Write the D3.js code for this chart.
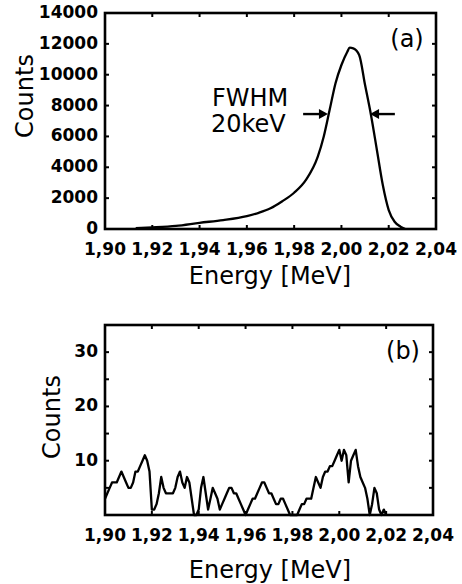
<!DOCTYPE html>
<html>
<head>
<meta charset="utf-8">
<script src="https://cdn.jsdelivr.net/npm/d3@7"></script>
<style>
  body { margin: 0; background: #fff; }
  svg { display: block; }
  .tick-label { font-family: "DejaVu Sans", sans-serif; font-weight: bold; font-size: 17px; fill: #000; }
  .axis-title { font-family: "DejaVu Sans", sans-serif; font-size: 24px; fill: #000; }
</style>
</head>
<body>
<div id="chart"></div>
<script>
// spectrum (a): energy [MeV] and counts
const energyA = [1.913, 1.92, 1.93, 1.94, 1.95, 1.96, 1.965, 1.97, 1.975, 1.98, 1.985, 1.99, 1.9925, 1.995, 1.9975,
    2.00, 2.0025, 2.0035, 2.005, 2.0075, 2.01, 2.0125, 2.015, 2.0175, 2.02, 2.0225, 2.025, 2.027];
const countsA = [50, 100, 200, 400, 580, 840, 1050, 1340, 1800, 2350, 3180, 4690, 5980, 7710, 9450,
    10630, 11490, 11750, 11710, 11280, 9330, 7390, 5120, 2850, 1230, 470, 150, 0];

// spectrum (b): 1 keV bins starting at 1.900 MeV
const binStartB = 1.900;
const binWidthB = 0.001;
const countsB = [3, 4, 5, 6, 6, 6, 7, 8, 7, 6, 5, 5, 6, 8, 8, 9, 10, 11, 10, 8,
    1, 1, 2, 4, 7, 5, 4, 4, 4, 4, 5, 7, 8, 6, 5, 7, 6, 3, 0, 0,
    1, 5, 7, 4, 1, 3, 5, 4, 3, 1, 2, 3, 4, 5, 5, 4, 4, 3, 2, 1,
    0, 1, 2, 3, 3, 4, 5, 6, 6, 5, 4, 4, 3, 2, 2, 3, 3, 2, 1, 0,
    0, 0, 0, 1, 2, 2, 3, 3, 3, 5, 7, 6, 5, 7, 8, 8, 9, 9, 10, 11,
    12, 10, 12, 11, 6, 10, 11, 12, 9, 7, 6, 5, 3, 0, 2, 5, 4, 1, 0, 1, 0];

const xTicks = [1.90, 1.92, 1.94, 1.96, 1.98, 2.00, 2.02, 2.04];
const yTicksA = [0, 2000, 4000, 6000, 8000, 10000, 12000, 14000];
const yTicksB = [5, 10, 15, 20, 25, 30];
const yLabelsB = [10, 20, 30];

// FWHM marker
const fwhmLeft = 1.9943;
const fwhmRight = 2.0121;
const fwhmLevel = 7450;

const width = 462, height = 584;
const svg = d3.select("#chart").append("svg")
    .attr("width", width)
    .attr("height", height);

const fmt = d => d.toFixed(2).replace(".", ",");

function drawPanel(opts) {
    const x = d3.scaleLinear().domain([1.90, 2.04]).range([opts.left, opts.right]);
    const y = d3.scaleLinear().domain(opts.yDomain).range([opts.bottom, opts.top]);
    const g = svg.append("g");
    const tl = 4;

    // inner ticks on all four sides
    xTicks.slice(1, -1).forEach(t => {
        g.append("line").attr("x1", x(t)).attr("x2", x(t)).attr("y1", opts.bottom).attr("y2", opts.bottom - tl)
            .attr("stroke", "#000").attr("stroke-width", 2);
        g.append("line").attr("x1", x(t)).attr("x2", x(t)).attr("y1", opts.top).attr("y2", opts.top + tl)
            .attr("stroke", "#000").attr("stroke-width", 2);
    });
    opts.yTicks.forEach(t => {
        if (t <= opts.yDomain[0] || t >= opts.yDomain[1]) return;
        g.append("line").attr("x1", opts.left).attr("x2", opts.left + tl).attr("y1", y(t)).attr("y2", y(t))
            .attr("stroke", "#000").attr("stroke-width", 2);
        g.append("line").attr("x1", opts.right).attr("x2", opts.right - tl).attr("y1", y(t)).attr("y2", y(t))
            .attr("stroke", "#000").attr("stroke-width", 2);
    });

    // data line
    g.append("path")
        .datum(opts.data)
        .attr("fill", "none")
        .attr("stroke", "#000")
        .attr("stroke-width", 2.3)
        .attr("stroke-linejoin", "round")
        .attr("d", d3.line().x(d => x(d[0])).y(d => y(d[1])).curve(opts.curve));

    // frame
    g.append("rect")
        .attr("x", opts.left).attr("y", opts.top)
        .attr("width", opts.right - opts.left).attr("height", opts.bottom - opts.top)
        .attr("fill", "none").attr("stroke", "#000").attr("stroke-width", 2.6);

    // tick labels
    g.selectAll("text.xl").data(xTicks).join("text")
        .attr("class", "tick-label")
        .attr("x", d => x(d)).attr("y", opts.bottom + 26)
        .attr("text-anchor", "middle")
        .text(fmt);
    g.selectAll("text.yl").data(opts.yLabels).join("text")
        .attr("class", "tick-label")
        .attr("x", opts.left - 7).attr("y", d => y(d) + 5)
        .attr("text-anchor", "end")
        .text(d => d);

    // titles
    g.append("text").attr("class", "axis-title")
        .attr("x", 270).attr("y", opts.bottom + opts.xTitleDy)
        .attr("text-anchor", "middle")
        .text("Energy [MeV]");
    g.append("text").attr("class", "axis-title")
        .attr("transform", `translate(${opts.yTitleX},${opts.yTitleY}) rotate(-90)`)
        .attr("text-anchor", "middle")
        .text("Counts");
    g.append("text").attr("class", "axis-title")
        .attr("x", opts.tagX).attr("y", opts.tagY)
        .attr("font-size", "21px")
        .attr("text-anchor", "middle")
        .text(opts.tag);

    return { g, x, y };
}

const pa = drawPanel({
    left: 105, right: 436, top: 13, bottom: 229,
    yDomain: [0, 14000], yTicks: yTicksA, yLabels: yTicksA,
    data: energyA.map((e, i) => [e, countsA[i]]),
    curve: d3.curveMonotoneX,
    xTitleDy: 55, yTitleX: 33, yTitleY: 96,
    tag: "(a)", tagX: 407, tagY: 47
});

// FWHM annotation
const arrowLen = 0.0105;
function arrow(g, x0, x1, yv) {
    const dir = Math.sign(x1 - x0);
    g.append("line").attr("x1", x0).attr("x2", x1 - dir * 6).attr("y1", yv).attr("y2", yv)
        .attr("stroke", "#000").attr("stroke-width", 2.4);
    g.append("path")
        .attr("d", `M${x1},${yv} L${x1 - dir * 9},${yv - 5} L${x1 - dir * 9},${yv + 5} Z`)
        .attr("fill", "#000");
}
const ay = pa.y(fwhmLevel);
arrow(pa.g, pa.x(fwhmLeft - arrowLen), pa.x(fwhmLeft), ay);
arrow(pa.g, pa.x(fwhmRight + arrowLen), pa.x(fwhmRight), ay);
pa.g.append("text").attr("class", "axis-title").attr("font-size", "21px")
    .attr("x", 212).attr("y", 106).text("FWHM");
pa.g.append("text").attr("class", "axis-title").attr("font-size", "21px")
    .attr("x", 211).attr("y", 132).text("20keV");

drawPanel({
    left: 105, right: 433, top: 325, bottom: 515,
    yDomain: [0, 35], yTicks: yTicksB, yLabels: yLabelsB,
    data: countsB.map((c, i) => [binStartB + i * binWidthB, c]),
    curve: d3.curveLinear,
    xTitleDy: 63, yTitleX: 60, yTitleY: 417,
    tag: "(b)", tagX: 403, tagY: 359
});
</script>
</body>
</html>
